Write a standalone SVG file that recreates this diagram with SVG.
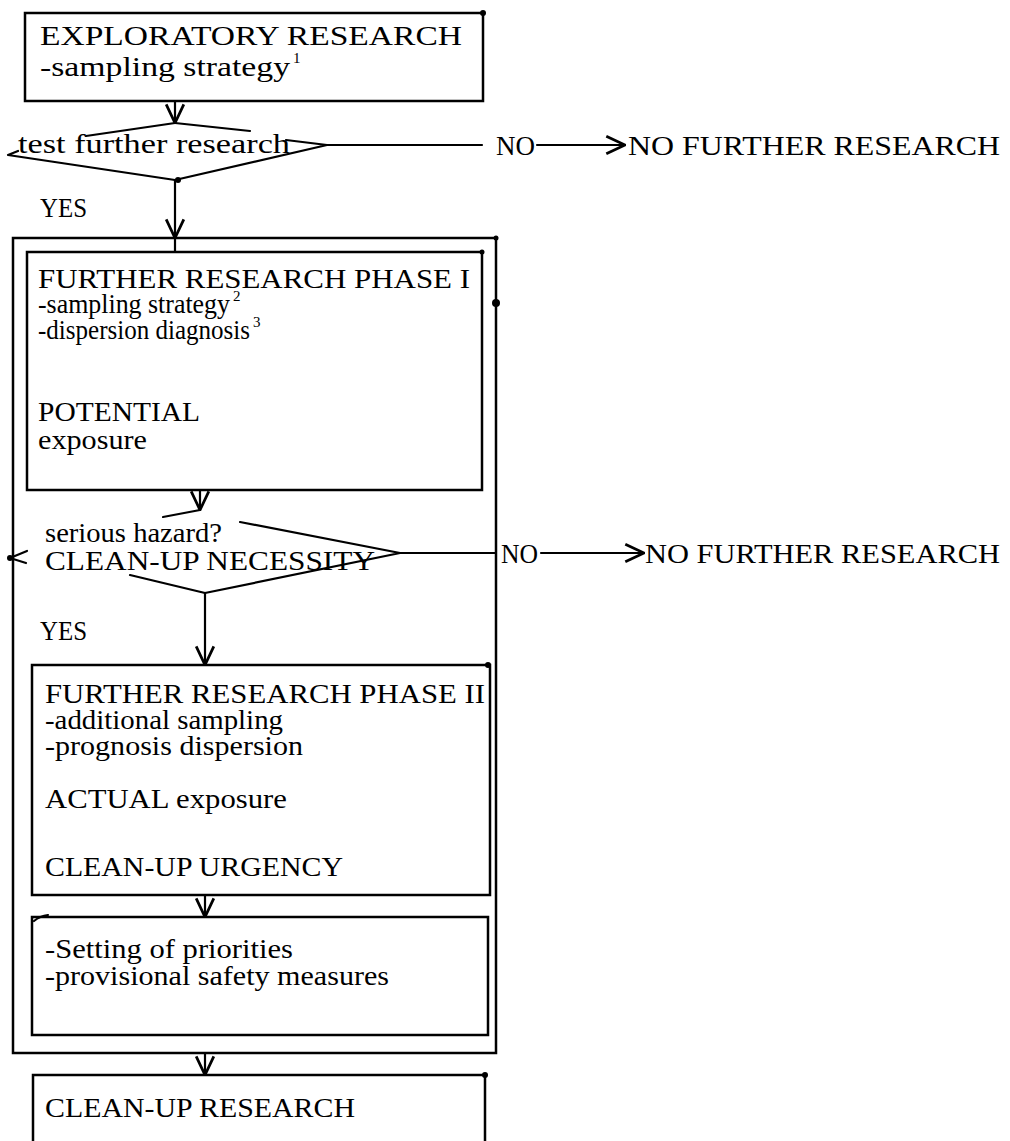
<svg xmlns="http://www.w3.org/2000/svg" width="1010" height="1141" viewBox="0 0 1010 1141">
<style>
  .t { font-family: "Liberation Serif", "Times New Roman", serif; font-size: 28px; fill: #000; }
  .s { font-size: 15px; }
  .box { fill: none; stroke: #000; stroke-width: 2.5; }
  .ln { fill: none; stroke: #000; stroke-width: 2.2; stroke-linecap: round; stroke-linejoin: round; }
  .dot { fill: #000; }
</style>
<defs>
  <marker id="v" viewBox="0 0 20 20" refX="19" refY="10" markerWidth="22" markerHeight="22" markerUnits="userSpaceOnUse" orient="auto">
    <path d="M2,2 L19,10 L2,18" fill="none" stroke="#000" stroke-width="2.5" stroke-linejoin="miter"/>
  </marker>
</defs>
<rect width="1010" height="1141" fill="#fff"/>

<g id="exploratory">
  <rect class="box" x="25" y="13" width="458" height="88"/>
  <circle class="dot" cx="483" cy="13" r="3"/>
  <text class="t" x="40" y="45" textLength="422" lengthAdjust="spacingAndGlyphs">EXPLORATORY RESEARCH</text>
  <text class="t" x="40" y="76"><tspan textLength="250" lengthAdjust="spacingAndGlyphs">-sampling strategy</tspan><tspan class="s" dx="3" dy="-13">1</tspan></text>
</g>

<g id="test-decision">
  <path class="ln" d="M175,123 L86,136"/>
  <path class="ln" d="M175,123 L250,131"/>
  <path class="ln" d="M286,140 L327,145 L175,180 L8,155 L18,151"/>
  <circle class="dot" cx="178" cy="180" r="3"/>
  <text class="t" x="18" y="153" textLength="272" lengthAdjust="spacingAndGlyphs">test further research</text>
</g>

<g id="no-further-1">
  <text class="t" x="628" y="155" textLength="372" lengthAdjust="spacingAndGlyphs">NO FURTHER RESEARCH</text>
</g>

<g id="outer-frame">
  <rect class="box" x="13" y="238" width="483" height="815"/>
  <circle class="dot" cx="496" cy="238" r="2.5"/>
  <circle class="dot" cx="496" cy="303" r="4"/>
</g>

<g id="phase1">
  <rect class="box" x="27" y="252" width="455" height="238"/>
  <circle class="dot" cx="482" cy="252" r="2.5"/>
  <text class="t" x="38" y="288" textLength="432" lengthAdjust="spacingAndGlyphs">FURTHER RESEARCH PHASE I</text>
  <text class="t" x="38" y="313"><tspan textLength="192" lengthAdjust="spacingAndGlyphs">-sampling strategy</tspan><tspan class="s" dx="3" dy="-12">2</tspan></text>
  <text class="t" x="38" y="339"><tspan textLength="212" lengthAdjust="spacingAndGlyphs">-dispersion diagnosis</tspan><tspan class="s" dx="3" dy="-12">3</tspan></text>
  <text class="t" x="38" y="421" textLength="162" lengthAdjust="spacingAndGlyphs">POTENTIAL</text>
  <text class="t" x="38" y="449" textLength="109" lengthAdjust="spacingAndGlyphs">exposure</text>
</g>

<g id="cleanup-necessity">
  <path class="ln" d="M200,510 L163,517"/>
  <path class="ln" d="M240,522 L400,553 L205,593 L130,575"/>
  <path class="ln" d="M27,551 L10,558 L26,563"/>
  <circle class="dot" cx="10" cy="558" r="3"/>
  <text class="t" x="45" y="542" textLength="177" lengthAdjust="spacingAndGlyphs">serious hazard?</text>
  <text class="t" x="45" y="570" textLength="330" lengthAdjust="spacingAndGlyphs">CLEAN-UP NECESSITY</text>
</g>

<g id="no-further-2">
  <text class="t" x="645" y="563" textLength="355" lengthAdjust="spacingAndGlyphs">NO FURTHER RESEARCH</text>
</g>

<g id="phase2">
  <rect class="box" x="32" y="665" width="458" height="230"/>
  <circle class="dot" cx="488" cy="665" r="3"/>
  <text class="t" x="45" y="703" textLength="440" lengthAdjust="spacingAndGlyphs">FURTHER RESEARCH PHASE II</text>
  <text class="t" x="45" y="729" textLength="238" lengthAdjust="spacingAndGlyphs">-additional sampling</text>
  <text class="t" x="45" y="755" textLength="258" lengthAdjust="spacingAndGlyphs">-prognosis dispersion</text>
  <text class="t" x="45" y="808" textLength="242" lengthAdjust="spacingAndGlyphs">ACTUAL exposure</text>
  <text class="t" x="45" y="876" textLength="298" lengthAdjust="spacingAndGlyphs">CLEAN-UP URGENCY</text>
</g>

<g id="priorities">
  <rect class="box" x="32" y="917" width="456" height="118"/>
  <path class="ln" d="M34,921 Q40,916 48,915" stroke-width="1.2"/>
  <text class="t" x="45" y="958" textLength="248" lengthAdjust="spacingAndGlyphs">-Setting of priorities</text>
  <text class="t" x="45" y="985" textLength="344" lengthAdjust="spacingAndGlyphs">-provisional safety measures</text>
</g>

<g id="cleanup-research">
  <path class="box" d="M33,1141 L33,1075 L485,1075 L485,1141"/>
  <circle class="dot" cx="485" cy="1075" r="3"/>
  <text class="t" x="45" y="1117" textLength="310" lengthAdjust="spacingAndGlyphs">CLEAN-UP RESEARCH</text>
</g>

<g id="connectors">
  <path class="ln" d="M175,101 L175,123" marker-end="url(#v)"/>
  <path class="ln" d="M327,145 L482,145"/>
  <text class="t" x="496" y="155" textLength="39" lengthAdjust="spacingAndGlyphs">NO</text>
  <path class="ln" d="M537,145 L625,145" marker-end="url(#v)"/>
  <path class="ln" d="M175,180 L175,238" marker-end="url(#v)"/>
  <path class="ln" d="M175,238 L175,252"/>
  <text class="t" x="40" y="217" textLength="47" lengthAdjust="spacingAndGlyphs">YES</text>
  <path class="ln" d="M200,490 L200,510" marker-end="url(#v)"/>
  <path class="ln" d="M400,553 L496,553"/>
  <text class="t" x="501" y="563" textLength="37" lengthAdjust="spacingAndGlyphs">NO</text>
  <path class="ln" d="M541,553 L644,553" marker-end="url(#v)"/>
  <path class="ln" d="M205,593 L205,665" marker-end="url(#v)"/>
  <text class="t" x="40" y="640" textLength="47" lengthAdjust="spacingAndGlyphs">YES</text>
  <path class="ln" d="M205,895 L205,917" marker-end="url(#v)"/>
  <path class="ln" d="M205,1053 L205,1075" marker-end="url(#v)"/>
</g>
</svg>
